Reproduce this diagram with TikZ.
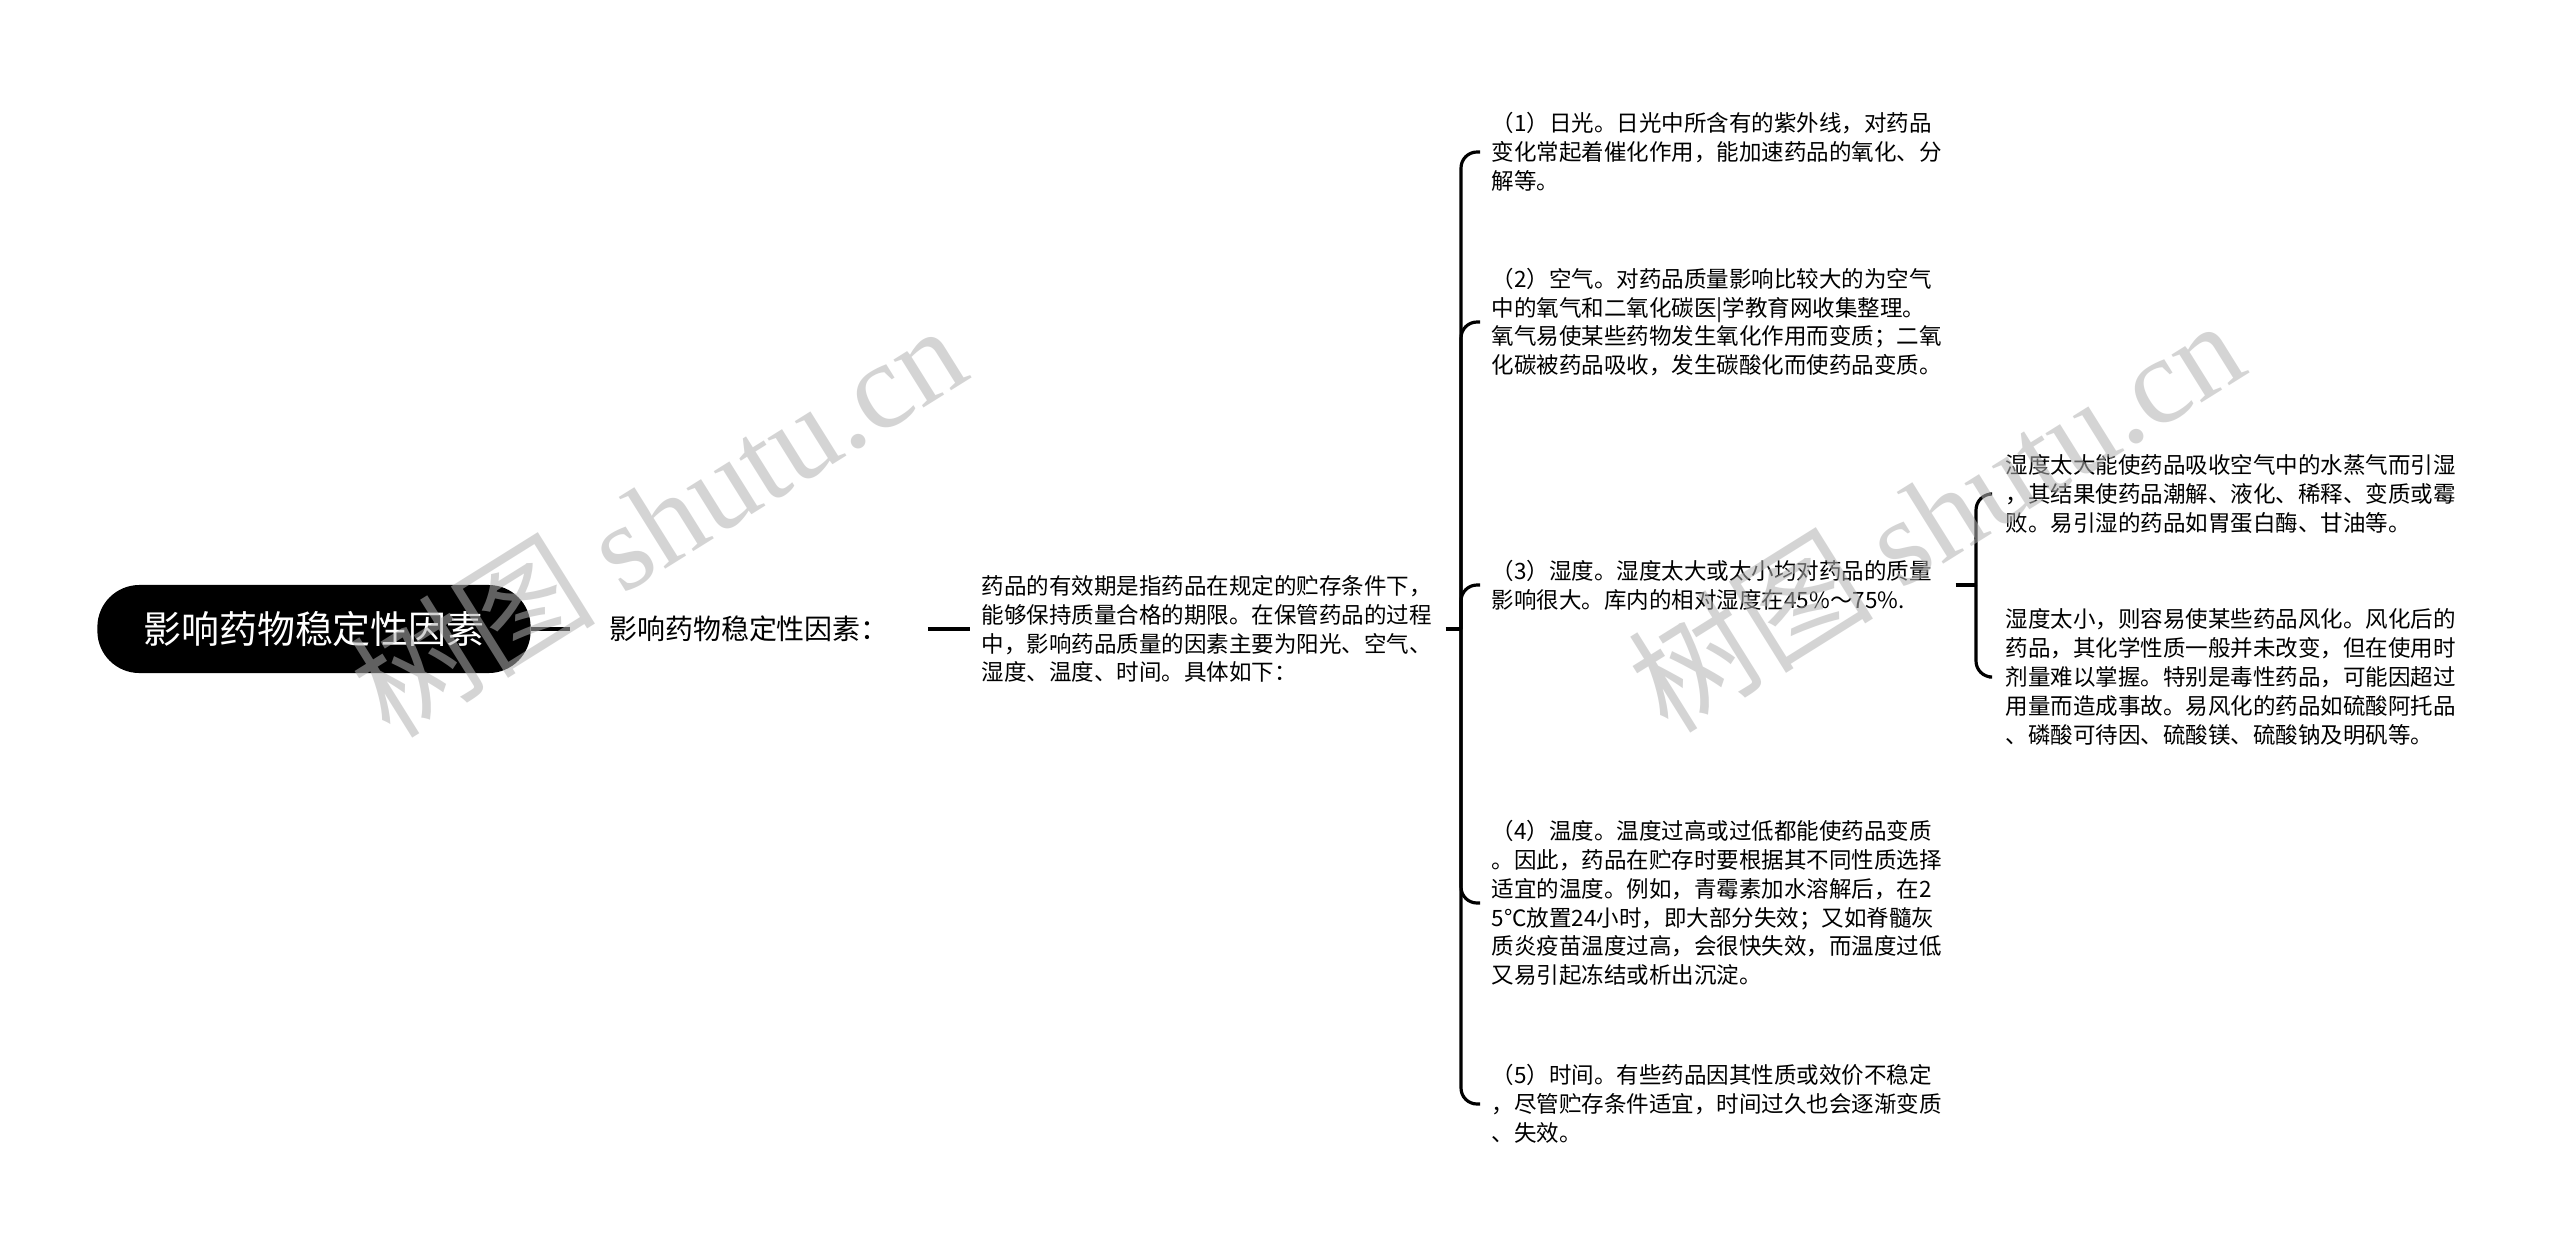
\documentclass[tikz,border=0pt]{standalone}
\usepackage{fontspec}
\setmainfont{Noto Sans CJK SC}
\newfontfamily\wmfont{Liberation Serif}
\begin{document}
\begin{tikzpicture}[x=0.01cm, y=-0.01cm,
  line/.style={line width=1pt},
  brace/.style={line width=0.9pt, rounded corners=0.16cm},
  rootbox/.style={fill=black, rounded corners=0.42cm, text=white, inner sep=0pt,
    minimum width=4.33cm, minimum height=0.88cm, font=\fontsize{10.8pt}{13pt}\selectfont},
  intro/.style={inner sep=0pt, minimum width=3.56cm, minimum height=0.4cm, font=\fontsize{7.95pt}{9.5pt}\selectfont},
  para/.style={anchor=west, align=left, inner xsep=0.11cm, inner ysep=0pt, text width=4.52cm,
    font=\fontsize{6.4pt}{8.2pt}\selectfont},
  wmark/.style={text=black!30, opacity=0.55, rotate=32, font=\fontsize{35pt}{40pt}\selectfont}]
\fill[white] (0,0) rectangle (2560,1257);
\useasboundingbox (0,0) rectangle (2560,1257);

\node(root)[rootbox] at (314,629) {影响药物稳定性因素};
\node(title)[intro] at (749,629) {影响药物稳定性因素：};
\node(desc)[para] at (970,629) {药品的有效期是指药品在规定的贮存条件下，\\能够保持质量合格的期限。在保管药品的过程\\中，影响药品质量的因素主要为阳光、空气、\\湿度、温度、时间。具体如下：};
\coordinate(hubA) at (1461,629);

\node(f1)[para] at (1480,152) {（1）日光。日光中所含有的紫外线，对药品\\变化常起着催化作用，能加速药品的氧化、分\\解等。};
\node(f2)[para] at (1480,322) {（2）空气。对药品质量影响比较大的为空气\\中的氧气和二氧化碳医|学教育网收集整理。\\氧气易使某些药物发生氧化作用而变质；二氧\\化碳被药品吸收，发生碳酸化而使药品变质。};
\node(f3)[para] at (1480,585) {（3）湿度。湿度太大或太小均对药品的质量\\影响很大。库内的相对湿度在45\%～75\%.};
\node(f4)[para] at (1480,903) {（4）温度。温度过高或过低都能使药品变质\\。因此，药品在贮存时要根据其不同性质选择\\适宜的温度。例如，青霉素加水溶解后，在2\\5°C放置24小时，即大部分失效；又如脊髓灰\\质炎疫苗温度过高，会很快失效，而温度过低\\又易引起冻结或析出沉淀。};
\node(f5)[para] at (1480,1104) {（5）时间。有些药品因其性质或效价不稳定\\，尽管贮存条件适宜，时间过久也会逐渐变质\\、失效。};
\coordinate(hubB) at (1976,585);

\node(h1)[para, inner xsep=0.16cm, text width=4.47cm] at (1989,494) {湿度太大能使药品吸收空气中的水蒸气而引湿\\，其结果使药品潮解、液化、稀释、变质或霉\\败。易引湿的药品如胃蛋白酶、甘油等。};
\node(h2)[para, inner xsep=0.16cm, text width=4.47cm] at (1989,677) {湿度太小，则容易使某些药品风化。风化后的\\药品，其化学性质一般并未改变，但在使用时\\剂量难以掌握。特别是毒性药品，可能因超过\\用量而造成事故。易风化的药品如硫酸阿托品\\、磷酸可待因、硫酸镁、硫酸钠及明矾等。};

\draw[line] (root.east) -- (title.west);
\draw[line] (title.east) -- (desc.west);
\draw[line] (desc.east) -- (hubA);
\foreach \f in {f1,f2,f3,f4,f5}
  \draw[brace] (hubA) |- (\f.west);
\draw[line] (f3.east) -- (hubB);
\foreach \h in {h1,h2}
  \draw[brace] (hubB) |- (\h.west);

\node(wm1)[wmark] at (657,519) {树图 {\wmfont shutu.cn}};
\node(wm2)[wmark] at (1935,514) {树图 {\wmfont shutu.cn}};
\end{tikzpicture}
\end{document}
